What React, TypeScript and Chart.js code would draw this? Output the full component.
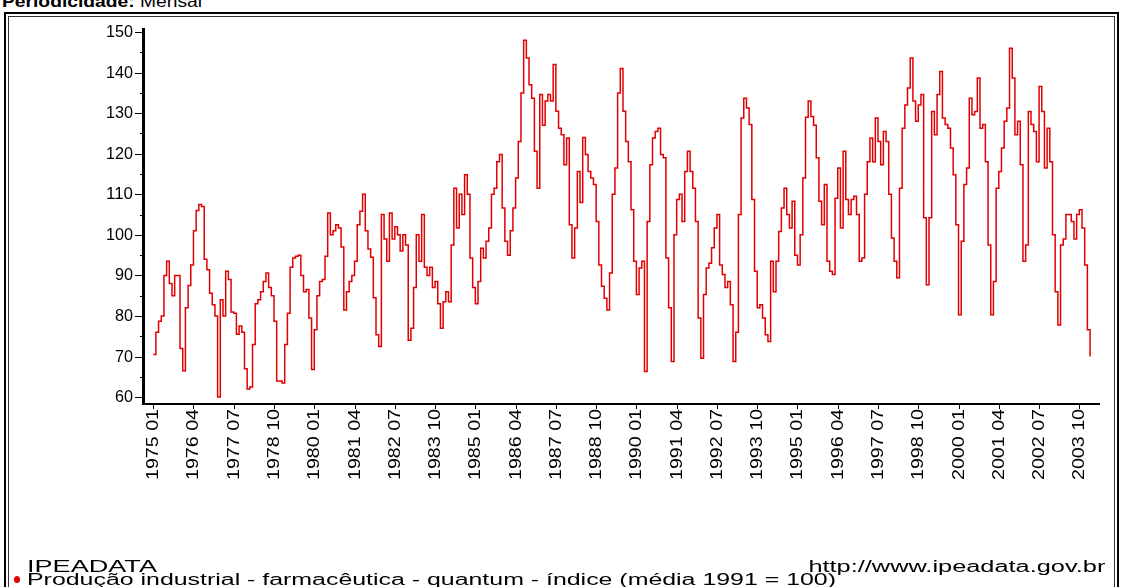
import React, { useEffect, useLayoutEffect, useRef } from "react";
import { Chart, registerables } from "chart.js";

Chart.register(...registerables);

// ---------------- data ----------------
const START_YEAR = 1975;
const V1975 = [70.5, 76, 78.7, 80, 90, 93.5, 88, 85, 90, 90, 72, 66.5];
const V1976 = [82, 87.5, 92.6, 101, 106, 107.5, 107, 94, 91.4, 85.6, 82.8, 80];
const V1977 = [60, 84, 80, 91, 89, 81, 80.7, 75.5, 77.5, 76, 67, 62];
const V1978 = [62.5, 73, 83, 84, 86, 88.5, 90.6, 87, 85, 78.7, 64, 64];
const V1979 = [63.5, 73, 80.7, 92, 94.3, 94.7, 95, 90, 86, 86.5, 79.5, 66.8];
const V1980 = [76.6, 85, 88.5, 89, 94.7, 105.4, 100, 101, 102.5, 101.7, 97, 81.5];
const V1981 = [86, 88.5, 90, 93.5, 102.5, 105.8, 110, 101, 96.5, 94.5, 84.5, 75.4];
const V1982 = [72.5, 105, 99, 93.5, 105.4, 99, 102, 100, 96, 100, 97.5, 74];
const V1983 = [77, 87, 100, 93.5, 105, 92, 90, 92, 87, 88.5, 83, 77];
const V1984 = [83.5, 86, 83.5, 97.5, 111.5, 101.7, 110, 105, 114.8, 110, 94.3, 87];
const V1985 = [83, 88.5, 96.7, 94.3, 98.4, 101.7, 110, 111.5, 118, 119.8, 106.6, 98.4];
const V1986 = [95, 101, 106.6, 114, 123, 135, 148, 143.6, 137, 133.7, 120.6, 111.5];
const V1987 = [134.6, 127, 133, 134.6, 133, 142, 130.5, 126.3, 124.7, 117.3, 123.9, 102.5];
const V1988 = [94.3, 101.7, 115.6, 108, 124, 119.8, 115.6, 114, 112.4, 103.3, 92.6, 87.3];
const V1989 = [84.4, 81.5, 90.6, 110, 116.5, 135, 141, 130.5, 123, 118, 106.2, 93.5];
const V1990 = [85.3, 91.8, 93.5, 66.3, 103.3, 117.3, 123.9, 125.5, 126.3, 119.8, 119, 94.3];
const V1991 = [82, 68.8, 100, 108.7, 110, 103.3, 115.6, 120.6, 115.6, 111.5, 103.3, 79.5];
const V1992 = [69.6, 85.3, 91.8, 93, 96.8, 101.7, 105, 92.6, 90.2, 87, 88.5, 82.8];
const V1993 = [68.8, 76, 105, 128.8, 133.7, 131.3, 127.2, 108.7, 91, 82, 82.8, 79.5];
const V1994 = [75.4, 73.7, 93.5, 86, 93.5, 100.8, 106.6, 111.5, 105, 101.7, 108.3, 95];
const V1995 = [92.6, 100, 114, 129, 133, 129.2, 127, 119, 108.3, 102.5, 112.4, 93.5];
const V1996 = [91, 90.2, 109, 116.5, 101.7, 120.6, 108.7, 105, 108.7, 109.5, 105, 93.5];
const V1997 = [94.3, 110, 118, 123.9, 118, 128.8, 123, 117.3, 125.5, 123, 110, 99.2];
const V1998 = [93.5, 89.4, 111.5, 126.3, 132, 136.2, 143.6, 133, 128, 132, 134.6, 104.2];
const V1999 = [87.7, 104.2, 130.4, 124.7, 134.6, 140.3, 128.8, 127.2, 126.3, 121.4, 114.8, 102.5];
const V2000 = [80.3, 98.4, 112.4, 116.5, 133.7, 129.6, 130.4, 138.7, 126.3, 127.2, 118, 97.5];
const V2001 = [80.3, 88.5, 111.5, 115.6, 121.4, 128, 131.3, 146, 138.7, 124.7, 128, 117.3];
const V2002 = [93.5, 97.5, 130.4, 127.2, 125.5, 118, 136.6, 130.4, 116.5, 126.3, 118, 100];
const V2003 = [86, 77.8, 97.5, 99, 105, 105, 103.3, 99, 105, 106.2, 101.7, 92.6];
const V2004 = [76.6, 70];

const SERIES_VALUES = [
  ...V1975, ...V1976, ...V1977, ...V1978, ...V1979, ...V1980, ...V1981, ...V1982,
  ...V1983, ...V1984, ...V1985, ...V1986, ...V1987, ...V1988, ...V1989, ...V1990,
  ...V1991, ...V1992, ...V1993, ...V1994, ...V1995, ...V1996, ...V1997, ...V1998,
  ...V1999, ...V2000, ...V2001, ...V2002, ...V2003, ...V2004,
];

const X_TICK_LABELS = [
  "1975 01", "1976 04", "1977 07", "1978 10", "1980 01", "1981 04", "1982 07", "1983 10",
  "1985 01", "1986 04", "1987 07", "1988 10", "1990 01", "1991 04", "1992 07", "1993 10",
  "1995 01", "1996 04", "1997 07", "1998 10", "2000 01", "2001 04", "2002 07", "2003 10",
];
const Y_TICKS = [60, 70, 80, 90, 100, 110, 120, 130, 140, 150];
const Y_MINOR_TICKS = [65, 75, 85, 95, 105, 115, 125, 135, 145];

const SERIES_NAME = "Produção industrial - farmacêutica - quantum - índice (média 1991 = 100)";
const SOURCE_NAME = "IPEADATA";
const SOURCE_URL = "http://www.ipeadata.gov.br";
const PERIOD_LABEL = "Periodicidade:";
const PERIOD_VALUE = "Mensal";

const LINE_COLOR = "#e00000";
const TICK_FONT = '15px "Liberation Sans", Arial, sans-serif';

const monthIndexOf = (label: string) => {
  const [y, m] = label.split(" ").map(Number);
  return (y - START_YEAR) * 12 + (m - 1);
};

// ---------------- axis drawing plugin ----------------
const ipeaAxes = {
  id: "ipeaAxes",
  afterDraw(chart: any) {
    const { ctx, chartArea: a, scales } = chart;
    const xs = scales.x;
    const ys = scales.y;
    ctx.save();
    ctx.fillStyle = "#000";
    // axis lines
    ctx.fillRect(a.left - 1, a.top, 3, a.bottom - a.top + 1);
    ctx.fillRect(a.left - 1, a.bottom - 1, a.right - a.left + 1, 2);

    // y ticks + labels
    ctx.font = TICK_FONT;
    ctx.textAlign = "right";
    ctx.textBaseline = "middle";
    Y_MINOR_TICKS.forEach((v) => {
      const y = Math.round(ys.getPixelForValue(v));
      ctx.fillRect(a.left - 3, y, 2, 1);
    });
    Y_TICKS.forEach((v) => {
      const y = Math.round(ys.getPixelForValue(v));
      ctx.fillRect(a.left - 8, y, 7, 1);
      const label = String(v);
      const w = ctx.measureText(label).width;
      const target = label.length === 3 ? 27 : 18;
      ctx.save();
      ctx.translate(a.left - 10, y + 0.5);
      ctx.scale(target / w, 1.05);
      ctx.fillText(label, 0, 0);
      ctx.restore();
    });

    // x ticks + rotated labels
    X_TICK_LABELS.forEach((label) => {
      const x = Math.round(xs.getPixelForValue(monthIndexOf(label)));
      ctx.fillRect(x, a.bottom, 1, 5);
      const w = ctx.measureText(label).width;
      ctx.save();
      ctx.translate(x + 1, a.bottom + 5);
      ctx.rotate(-Math.PI / 2);
      ctx.scale(71 / w, 1.05);
      ctx.textAlign = "right";
      ctx.textBaseline = "middle";
      ctx.fillText(label, 0, 0);
      ctx.restore();
    });
    ctx.restore();
  },
};

// ---------------- stretched html text ----------------
function StretchText(props: {
  text: React.ReactNode;
  left?: number;
  right?: number;
  top: number;
  width: number;
  size: number;
  bold?: boolean;
}) {
  const ref = useRef<HTMLSpanElement | null>(null);
  useLayoutEffect(() => {
    const el = ref.current;
    if (!el) return;
    el.style.transform = "none";
    const w = el.getBoundingClientRect().width;
    if (w > 0) el.style.transform = `scaleX(${props.width / w})`;
  });
  const style: React.CSSProperties = {
    position: "absolute",
    top: props.top,
    whiteSpace: "nowrap",
    fontFamily: '"Liberation Sans", Arial, sans-serif',
    fontSize: props.size,
    lineHeight: `${props.size}px`,
    fontWeight: props.bold ? "bold" : "normal",
    color: "#000",
    transformOrigin: props.right !== undefined ? "right top" : "left top",
  };
  if (props.left !== undefined) style.left = props.left;
  if (props.right !== undefined) style.right = props.right;
  return (
    <span ref={ref} style={style}>
      {props.text}
    </span>
  );
}

export default function App() {
  const canvasRef = useRef<HTMLCanvasElement | null>(null);

  useEffect(() => {
    const canvas = canvasRef.current;
    if (!canvas) return;
    const points = SERIES_VALUES.map((v, i) => ({ x: i, y: v }));
    const chart = new Chart(canvas, {
      type: "line",
      data: {
        datasets: [
          {
            label: SERIES_NAME,
            data: points,
            borderColor: LINE_COLOR,
            borderWidth: 1.5,
            pointRadius: 0,
            stepped: true,
            fill: false,
          },
        ],
      },
      options: {
        animation: false,
        responsive: true,
        maintainAspectRatio: false,
        devicePixelRatio: 1,
        layout: { padding: { left: 143, top: 28, right: 22, bottom: 183 } },
        plugins: { legend: { display: false }, tooltip: { enabled: false } },
        scales: {
          x: { type: "linear", display: false, min: -3.8, max: 352.7 },
          y: { type: "linear", display: false, min: 58.3, max: 151 },
        },
      },
      plugins: [ipeaAxes],
    });
    return () => chart.destroy();
  }, []);

  return (
    <div style={{ position: "absolute", left: 0, top: 0, width: 1122, height: 587, overflow: "hidden", background: "#fff" }}>
      <StretchText
        text={
          <>
            <b>{PERIOD_LABEL}</b> <span style={{ fontWeight: "normal" }}>{PERIOD_VALUE}</span>
          </>
        }
        left={2}
        top={-6}
        width={200}
        size={16}
      />
      <div
        style={{
          position: "absolute",
          left: 4,
          top: 12,
          width: 1115,
          height: 700,
          border: "2px solid #000",
          boxSizing: "border-box",
        }}
      />
      <div
        style={{
          position: "absolute",
          left: 8,
          top: 16,
          width: 1107,
          height: 700,
          border: "1px solid #333",
          boxSizing: "border-box",
        }}
      />
      <div style={{ position: "absolute", left: 0, top: 0, width: 1122, height: 587 }}>
        <canvas ref={canvasRef} />
      </div>
      <StretchText text={SOURCE_NAME} left={27} top={559} width={130} size={16} />
      <StretchText text={SOURCE_URL} right={17} top={559} width={297} size={16} />
      <div
        style={{
          position: "absolute",
          left: 14,
          top: 576,
          width: 6,
          height: 7,
          borderRadius: "50%",
          background: "#e00000",
        }}
      />
      <StretchText text={SERIES_NAME} left={27} top={572} width={809} size={16} />
    </div>
  );
}
